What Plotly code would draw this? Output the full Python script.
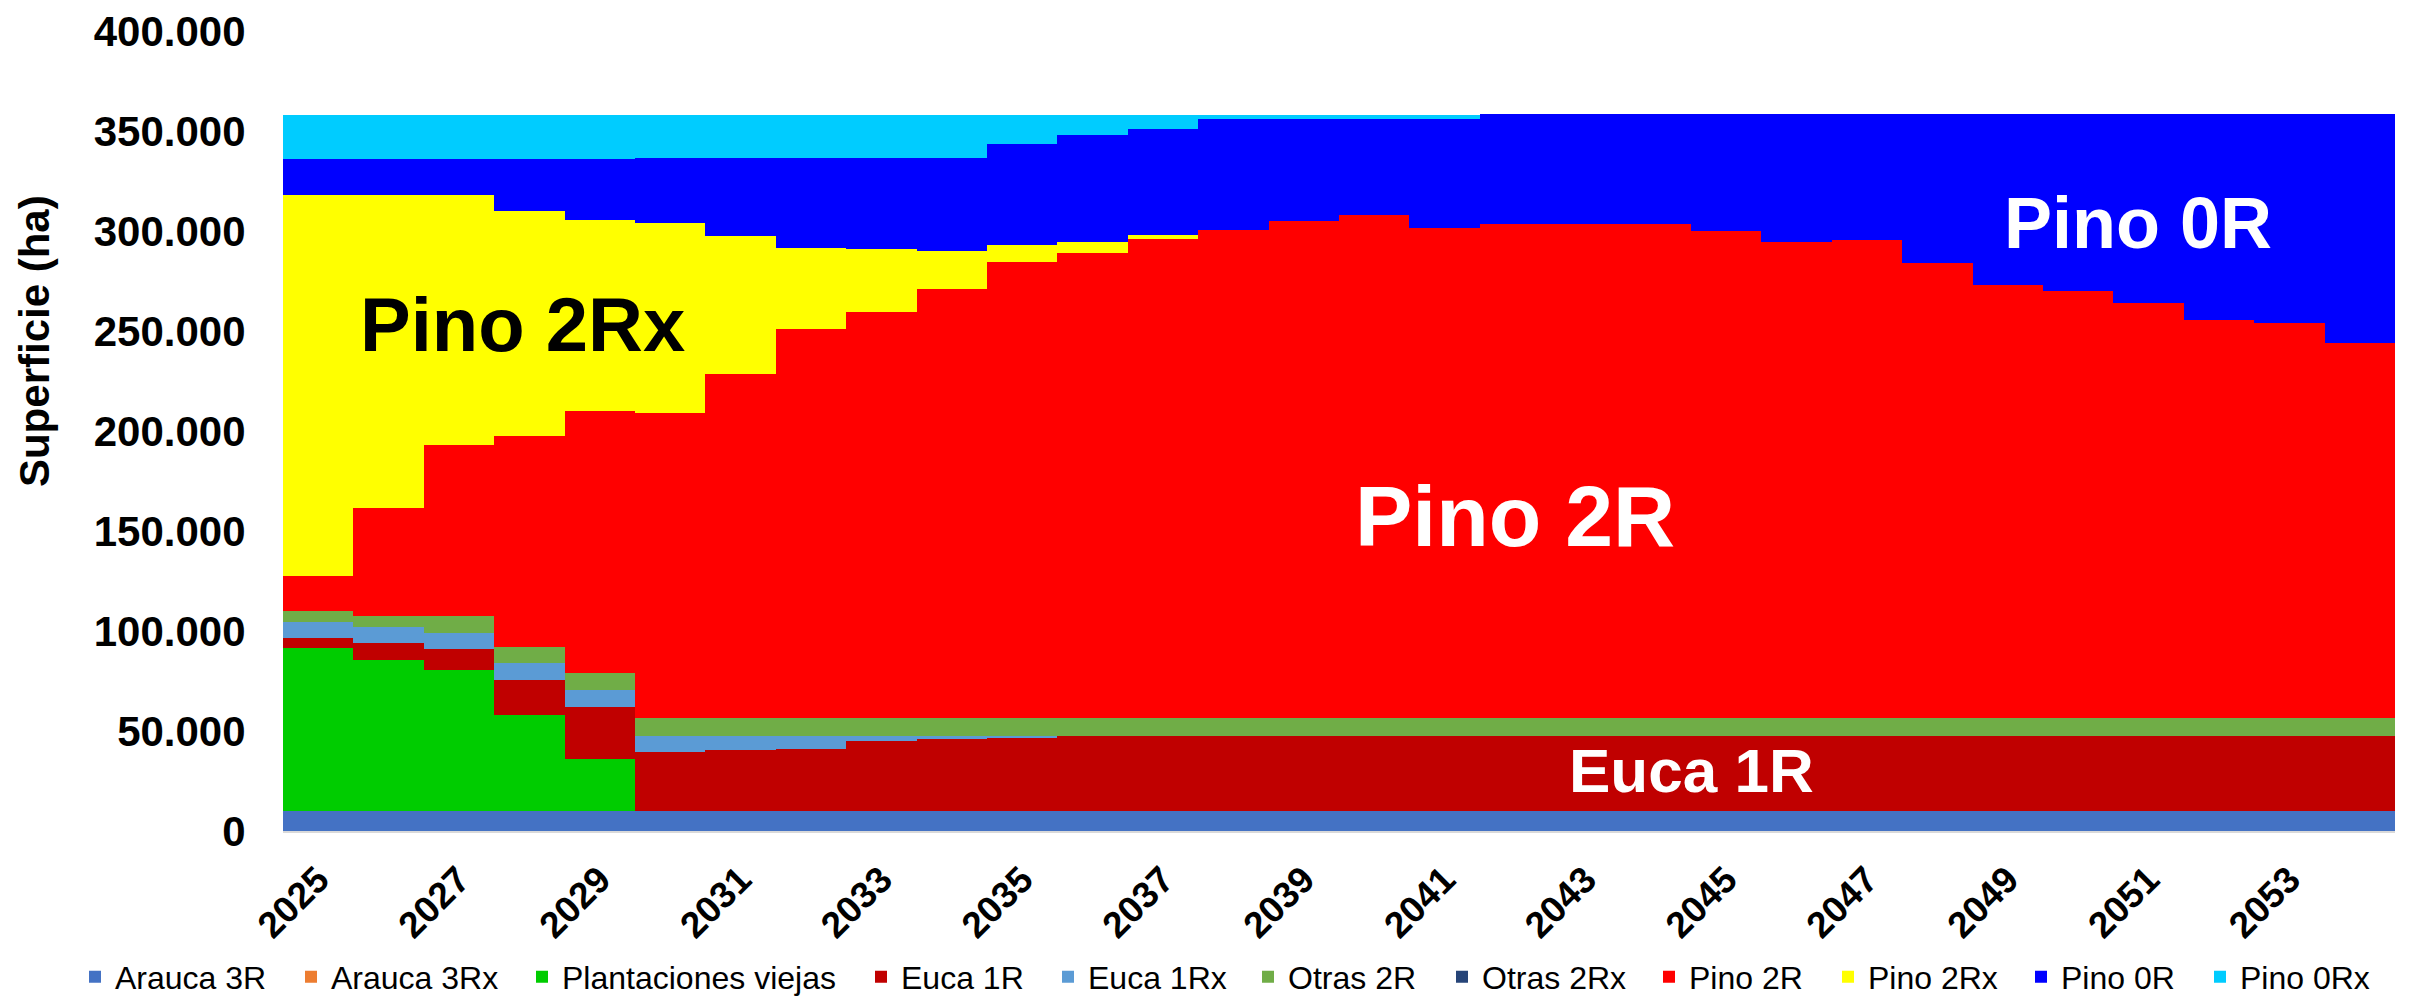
import plotly.graph_objects as go

years = [2025, 2026, 2027, 2028, 2029, 2030, 2031, 2032, 2033, 2034,
         2035, 2036, 2037, 2038, 2039, 2040, 2041, 2042, 2043, 2044,
         2045, 2046, 2047, 2048, 2049, 2050, 2051, 2052, 2053, 2054]

arauca_3r = [9800, 9800, 9800, 9800, 9800, 9800, 9800, 9800, 9800, 9800,
             9800, 9800, 9800, 9800, 9800, 9800, 9800, 9800, 9800, 9800,
             9800, 9800, 9800, 9800, 9800, 9800, 9800, 9800, 9800, 9800]
arauca_3rx = [0, 0, 0, 0, 0, 0, 0, 0, 0, 0, 0, 0, 0, 0, 0,
              0, 0, 0, 0, 0, 0, 0, 0, 0, 0, 0, 0, 0, 0, 0]
plantaciones_viejas = [81700, 75700, 70700, 48000, 26200, 0, 0, 0, 0, 0,
                       0, 0, 0, 0, 0, 0, 0, 0, 0, 0,
                       0, 0, 0, 0, 0, 0, 0, 0, 0, 0]
euca_1r = [5200, 8300, 10500, 17700, 26200, 29900, 30700, 31400, 35400, 36400,
           36900, 37700, 37700, 37700, 37700, 37700, 37700, 37700, 37700, 37700,
           37700, 37700, 37700, 37700, 37700, 37700, 37700, 37700, 37700, 37700]
euca_1rx = [8000, 8400, 8200, 8300, 8300, 7800, 7000, 6300, 2300, 1300,
            800, 0, 0, 0, 0, 0, 0, 0, 0, 0,
            0, 0, 0, 0, 0, 0, 0, 0, 0, 0]
otras_2r = [5100, 5300, 8300, 8400, 8300, 8800, 8800, 8800, 8800, 8800,
            8800, 8800, 8800, 8800, 8800, 8800, 8800, 8800, 8800, 8800,
            8800, 8800, 8800, 8800, 8800, 8800, 8800, 8800, 8800, 8800]
otras_2rx = [0, 0, 0, 0, 0, 0, 0, 0, 0, 0, 0, 0, 0, 0, 0,
             0, 0, 0, 0, 0, 0, 0, 0, 0, 0, 0, 0, 0, 0, 0]
pino_2r = [17700, 53800, 85700, 105300, 131000, 152700, 172200, 194900, 203400, 214900,
           228400, 232900, 239700, 244000, 248700, 251700, 245000, 247200, 247200, 247200,
           243700, 238000, 239000, 227900, 216700, 213700, 207700, 199200, 197900, 187700]
pino_2rx = [190700, 156900, 125000, 112300, 95700, 95000, 69000, 40300, 31500, 19000,
            8300, 5500, 2000, 0, 0, 0, 0, 0, 0, 0,
            0, 0, 0, 0, 0, 0, 0, 0, 0, 0]
pino_0r = [18000, 18000, 18000, 26400, 30700, 32300, 38800, 44800, 45100, 46100,
           50300, 53100, 53200, 55700, 51000, 48000, 54700, 54800, 54800, 54800,
           58300, 64000, 63000, 74100, 85300, 88300, 94300, 102800, 104100, 114300]
pino_0rx = [22000, 22000, 22000, 22000, 22000, 21900, 21900, 21900, 21900, 21900,
            14900, 10400, 7000, 2200, 2200, 2200, 2200, 0, 0, 0,
            0, 0, 0, 0, 0, 0, 0, 0, 0, 0]

series_names = ["Arauca 3R", "Arauca 3Rx", "Plantaciones viejas", "Euca 1R", "Euca 1Rx",
                "Otras 2R", "Otras 2Rx", "Pino 2R", "Pino 2Rx", "Pino 0R", "Pino 0Rx"]
series_values = [arauca_3r, arauca_3rx, plantaciones_viejas, euca_1r, euca_1rx,
                 otras_2r, otras_2rx, pino_2r, pino_2rx, pino_0r, pino_0rx]
series_colors = ["#4472C4", "#ED7D31", "#00CC00", "#C00000", "#5B9BD5",
                 "#70AD47", "#264478", "#FF0000", "#FFFF00", "#0000FF", "#00CCFF"]

x_tick_years = [2025, 2027, 2029, 2031, 2033, 2035, 2037, 2039, 2041,
                2043, 2045, 2047, 2049, 2051, 2053]
x_tick_labels = ["2025", "2027", "2029", "2031", "2033", "2035", "2037", "2039", "2041",
                 "2043", "2045", "2047", "2049", "2051", "2053"]
y_ticks = [0, 50000, 100000, 150000, 200000, 250000, 300000, 350000, 400000]

# in-chart labels: text, x (year position), y (ha), color, size
area_labels = [("Pino 2Rx", 2027.9, 253500, "black", 76),
               ("Pino 2R", 2042.0, 157500, "white", 86),
               ("Pino 0R", 2050.85, 304000, "white", 72),
               ("Euca 1R", 2044.5, 30500, "white", 62)]

# left edge (px) of each legend entry's swatch along the bottom row
legend_swatch_px = [89, 305, 536, 875, 1062, 1262, 1456, 1663, 1842, 2035, 2214]

FONT = "Liberation Sans, Arial, sans-serif"
W, H = 2415, 998

fig = go.Figure()
legend_layouts = {}
for i, (name, vals, col) in enumerate(zip(series_names, series_values, series_colors)):
    key = "legend" if i == 0 else "legend%d" % (i + 1)
    fig.add_trace(go.Bar(x=years, y=vals, name=name, legend=key,
                         marker=dict(color=col, line=dict(width=0))))
    legend_layouts[key] = dict(
        orientation="h", xref="container", yref="container",
        x=(legend_swatch_px[i] - 14) / W, xanchor="left",
        y=0.021, yanchor="middle",
        bgcolor="rgba(0,0,0,0)", borderwidth=0,
        font=dict(family=FONT, size=32, color="black"),
        itemclick=False, itemdoubleclick=False)

annotations = []
for txt, xx, yy, col, sz in area_labels:
    annotations.append(dict(x=xx, y=yy, xref="x", yref="y", text=txt, showarrow=False,
                            font=dict(family=FONT, size=sz, color=col, weight="bold")))
annotations.append(dict(x=-0.1174, y=0.6125, xref="paper", yref="paper",
                        text="Superficie (ha)", showarrow=False, textangle=-90,
                        xanchor="center", yanchor="middle",
                        font=dict(family=FONT, size=42, color="black", weight="bold")))

fig.update_layout(
    width=W, height=H,
    barmode="stack", bargap=0,
    separators=",.",
    paper_bgcolor="white", plot_bgcolor="white",
    margin=dict(l=283, r=20, t=31, b=167, autoexpand=False),
    font=dict(family=FONT, color="black"),
    xaxis=dict(range=[2024.5, 2054.5], tickvals=x_tick_years, ticktext=x_tick_labels,
               tickangle=-45, showgrid=False,
               showline=True, linecolor="#D9D9D9", linewidth=2, zeroline=False,
               ticks="outside", ticklen=10, tickcolor="rgba(0,0,0,0)",
               tickfont=dict(family=FONT, size=37, color="black", weight="bold")),
    yaxis=dict(range=[0, 400000], tickvals=y_ticks, tickformat=",d",
               showgrid=True, gridcolor="#D9D9D9", gridwidth=2, zeroline=False,
               showline=False, ticks="outside", ticklen=28, tickcolor="rgba(0,0,0,0)",
               tickfont=dict(family=FONT, size=42, color="black", weight="bold")),
    annotations=annotations,
    showlegend=True,
)
fig.update_layout(**legend_layouts)

fig.write_html("out.html",
               config={"displayModeBar": False},
               post_script="document.body.style.margin='0';document.body.style.overflow='hidden';")
